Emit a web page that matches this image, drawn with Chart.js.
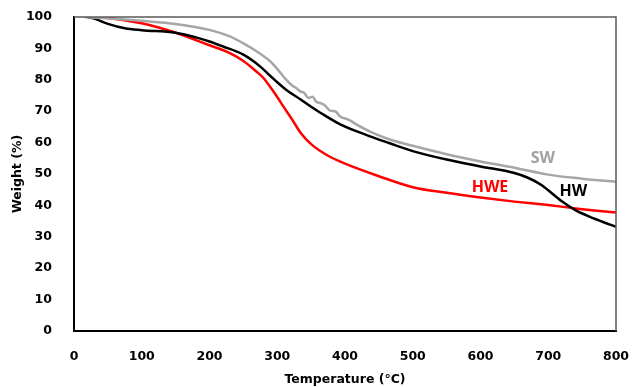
<!DOCTYPE html>
<html lang="en">
<head>
<meta charset="UTF-8">
<title>TGA</title>
<script src="https://cdn.jsdelivr.net/npm/chart.js@4.4.0/dist/chart.umd.min.js"></script>
<style>
  html, body { margin: 0; padding: 0; background: #fff; }
  #wrap { width: 633px; height: 387px; }
</style>
</head>
<body>
<div id="wrap"><canvas id="tga"></canvas></div>
<script>
// temperature (°C) / weight (%)
const tempSW = [15, 50, 100, 150, 200, 230, 250, 270, 289, 300, 312, 322, 328, 334, 340, 346, 352, 358, 363, 370, 378, 386, 393, 405, 420, 437, 466, 500, 550, 600, 650, 700, 750, 800];
const weightSW = [100, 99.6, 98.8, 97.8, 95.9, 93.8, 91.6, 89, 86, 83.5, 80.3, 78.2, 77.4, 76.3, 75.8, 74.2, 74.6, 72.9, 72.6, 71.9, 70.2, 69.9, 68.3, 67.3, 65.4, 63.5, 61, 59, 56.3, 54, 52, 49.8, 48.5, 47.5];

const tempHW = [20, 30, 50, 75, 100, 150, 180, 200, 220, 250, 275, 290, 300, 315, 334, 350, 363, 393, 437, 466, 500, 550, 600, 650, 670, 690, 700, 720, 740, 760, 780, 800];
const weightHW = [100, 99.5, 97.8, 96.4, 95.8, 95, 93.5, 92.2, 90.6, 88, 84.2, 81.2, 79.2, 76.5, 73.8, 71.4, 69.6, 65.8, 62, 59.8, 57.3, 54.6, 52.4, 50.3, 48.8, 46.5, 44.8, 41.3, 38.5, 36.5, 34.8, 33.2];

const tempHWE = [20, 50, 100, 150, 200, 230, 250, 270, 280, 290, 300, 310, 320, 335, 350, 375, 400, 450, 500, 550, 600, 650, 700, 750, 800];
const weightHWE = [100, 99.7, 98, 95, 91, 88.5, 86, 82.5, 80.5, 77.6, 74.5, 71.2, 68, 63, 59.5, 55.8, 53.3, 49.3, 45.8, 44, 42.5, 41.2, 40.1, 38.8, 37.7];

const xTicks = [0, 100, 200, 300, 400, 500, 600, 700, 800];
const yTicks = [0, 10, 20, 30, 40, 50, 60, 70, 80, 90, 100];

// curve labels, in data units
const labelNames = ['SW', 'HWE', 'HW'];
const labelT = [692, 614, 737];
const labelW = [55, 45.8, 44.6];
const labelColors = ['#a0a0a0', '#ff0000', '#000000'];

function pts(t, w) { return t.map((v, i) => ({ x: v, y: w[i] })); }

const tickFont = { family: 'DejaVu Sans', size: 12.5, weight: 'bold' };

// top & right frame lines + curve names
const extras = {
    id: 'extras',
    afterDraw(chart) {
        const c = chart.ctx, a = chart.chartArea;
        c.save();
        c.strokeStyle = '#595959';
        c.lineWidth = 1.5;
        c.beginPath();
        c.moveTo(a.left, a.top);
        c.lineTo(a.right, a.top);
        c.lineTo(a.right, a.bottom);
        c.stroke();
        c.font = 'bold 16px "Open Sans"';
        c.textAlign = 'center';
        c.textBaseline = 'middle';
        const xs = chart.scales.x, ys = chart.scales.y;
        labelNames.forEach((n, i) => {
            c.fillStyle = labelColors[i];
            c.fillText(n, xs.getPixelForValue(labelT[i]), ys.getPixelForValue(labelW[i]));
        });
        c.restore();
    }
};

const ctx = document.getElementById('tga').getContext('2d');
new Chart(ctx, {
    type: 'line',
    data: {
        datasets: [
            { label: 'SW', data: pts(tempSW, weightSW), borderColor: '#a6a6a6', borderWidth: 2.5 },
            { label: 'HW', data: pts(tempHW, weightHW), borderColor: '#000000', borderWidth: 2.5 },
            { label: 'HWE', data: pts(tempHWE, weightHWE), borderColor: '#ff0000', borderWidth: 2.5 }
        ]
    },
    options: {
        responsive: true,
        maintainAspectRatio: false,
        animation: false,
        elements: {
            point: { radius: 0 },
            line: { cubicInterpolationMode: 'monotone', fill: false }
        },
        layout: { padding: { top: 17, right: 17, left: 0, bottom: 0 } },
        plugins: { legend: { display: false }, tooltip: { enabled: false } },
        scales: {
            x: {
                type: 'linear',
                min: 0, max: 800,
                afterBuildTicks: s => { s.ticks = xTicks.map(v => ({ value: v })); },
                afterFit: s => { s.height = 56; s.paddingLeft = 0; s.paddingRight = 0; },
                grid: { display: false },
                border: { display: true, color: '#000', width: 2 },
                ticks: { color: '#000', font: tickFont, padding: 10, maxRotation: 0, autoSkip: false },
                title: { display: true, text: 'Temperature (°C)', color: '#000', font: tickFont, padding: { top: 4, bottom: 0 } }
            },
            y: {
                min: 0, max: 100,
                afterBuildTicks: s => { s.ticks = yTicks.map(v => ({ value: v })); },
                afterFit: s => { s.width = 74; s.paddingTop = 0; s.paddingBottom = 0; },
                grid: { display: false },
                border: { display: true, color: '#000', width: 2 },
                ticks: { color: '#000', font: tickFont, padding: 14 },
                title: { display: true, text: 'Weight (%)', color: '#000', font: tickFont, padding: { top: 10, bottom: 6 } }
            }
        }
    },
    plugins: [extras]
});
</script>
</body>
</html>
